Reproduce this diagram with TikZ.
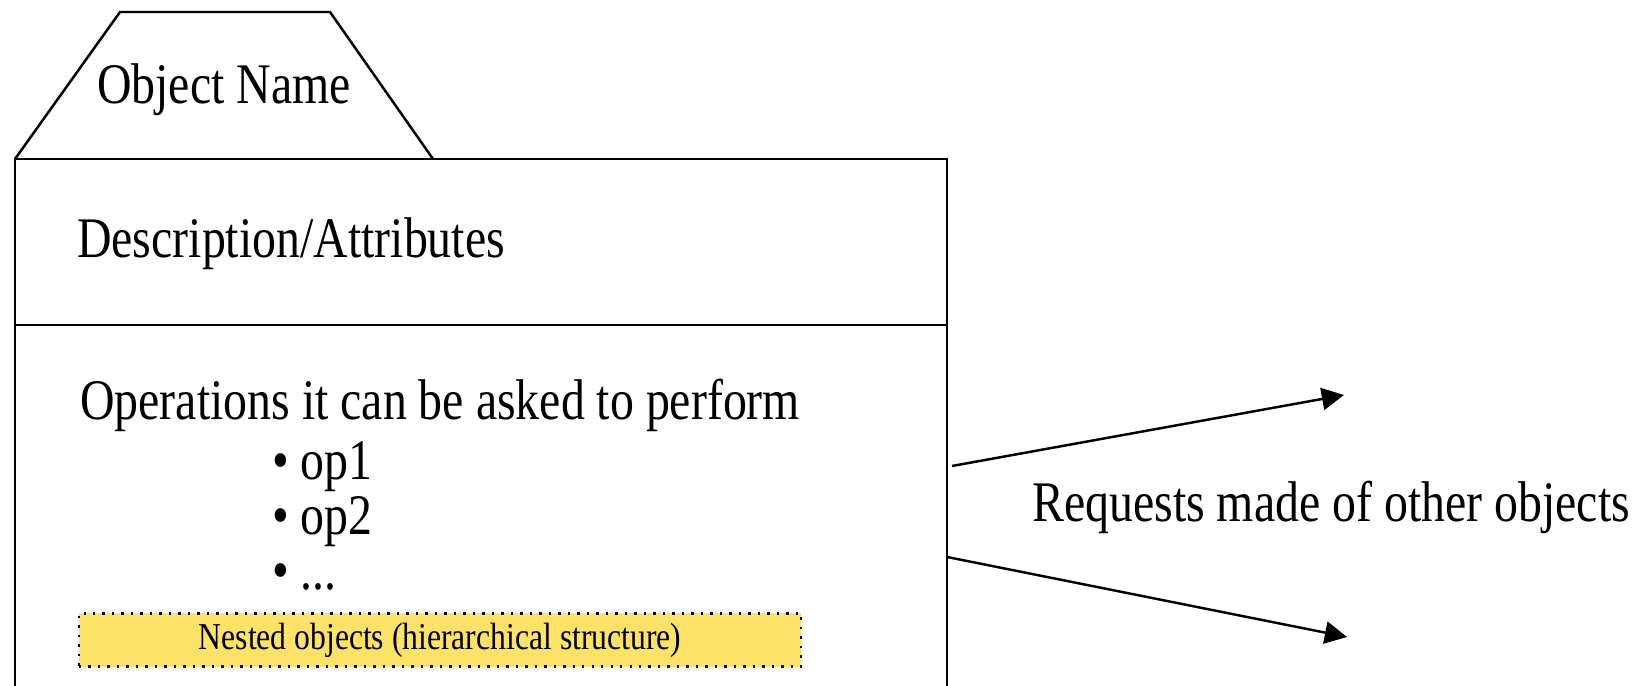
\documentclass[tikz,border=0pt]{standalone}
\usepackage{fontspec}
\setmainfont{Liberation Serif}
\usetikzlibrary{arrows.meta}
\definecolor{nestyellow}{RGB}{252,226,102}
\newcommand{\tallt}[1]{\scalebox{1}[1.2]{#1}}

\begin{document}
\begin{tikzpicture}[x=0.01cm, y=-0.01cm, line width=0.7pt,
    txt/.style={inner sep=0pt, font=\fontsize{13.6}{16}\selectfont},
    nest/.style={draw, dotted, fill=nestyellow, inner sep=0pt,
      minimum width=7.22cm, minimum height=0.53cm,
      font=\fontsize{9}{11}\selectfont},
    req/.style={-{Triangle[length=6.3pt, width=6.3pt]}}]
  \useasboundingbox (0,0) rectangle (1649,686);
  % tab and box
  \draw (15,159) -- (120,12) -- (330,12) -- (433,159);
  \draw (15,690) -- (15,159) -- (947,159) -- (947,690);
  \draw (15,325) -- (947,325);
  \node[txt, anchor=base] (name) at (224,104) {\tallt{Object Name}};
  \node[txt, anchor=base west] (attr) at (76,258) {\tallt{Description/Attributes}};
  \node[txt, anchor=base west] (ops) at (79,420) {\tallt{Operations it can be asked to perform}};
  \node[txt, anchor=base west] (op1) at (271,480) {\tallt{• op1}};
  \node[txt, anchor=base west] (op2) at (271,535) {\tallt{• op2}};
  \node[txt, anchor=base west] (op3) at (271,590) {\tallt{• ...}};
  \node[nest] (nest) at (440,640) {\tallt{Nested objects (hierarchical structure)}};
  % requests
  \coordinate (out1) at (952,466);
  \coordinate (out2) at (947,557);
  \coordinate (to1) at (1344,395);
  \coordinate (to2) at (1347,637);
  \draw[req] (out1) -- (to1);
  \draw[req] (out2) -- (to2);
  \node[txt, anchor=base west] (req) at (1031,522) {\tallt{Requests made of other objects}};
\end{tikzpicture}
\end{document}
